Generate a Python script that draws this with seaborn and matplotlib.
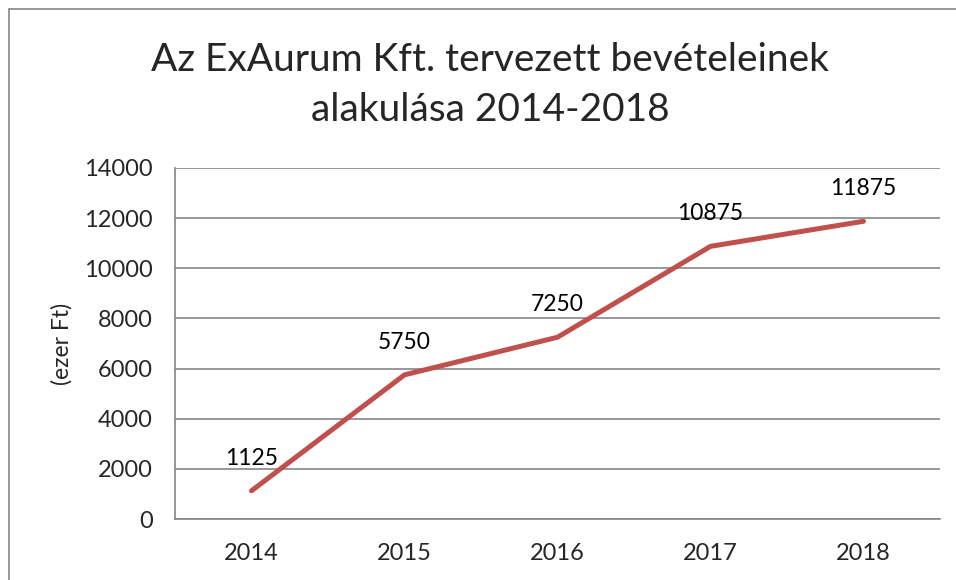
import numpy as np
import pandas as pd
import matplotlib.pyplot as plt
import seaborn as sns
from matplotlib.patches import Rectangle

years = ["2014", "2015", "2016", "2017", "2018"]
revenue = [1125, 5750, 7250, 10875, 11875]
y_ticks = [0, 2000, 4000, 6000, 8000, 10000, 12000, 14000]

df = pd.DataFrame({"pos": np.arange(len(years)), "revenue": revenue})

sns.set_style("white")
plt.rcParams["font.family"] = ["Lato", "DejaVu Sans"]

fig = plt.figure(figsize=(9.56, 5.8), dpi=100)
ax = fig.add_axes([175 / 956, 1 - 519 / 580, 765 / 956, 351 / 580])

sns.lineplot(x="pos", y="revenue", data=df, ax=ax, color="#C0504D",
             linewidth=3.6, solid_capstyle="round")

for x, v in zip(df["pos"], df["revenue"]):
    ax.annotate(str(v), (x, v), xytext=(0, 16), textcoords="offset points",
                ha="center", va="bottom", fontsize=16.5, color="black")

ax.set_xlim(-0.5, len(years) - 0.5)
ax.set_ylim(0, 14000)
ax.set_yticks(y_ticks)
ax.set_yticklabels([str(t) for t in y_ticks], fontsize=17)
ax.set_xticks(np.arange(-0.5, len(years)), labels=[""] * (len(years) + 1))
ax.set_xticks(np.arange(len(years)), labels=years, minor=True, fontsize=17)
ax.tick_params(axis="x", which="major", length=7, width=1.2, color="#868686", direction="out")
ax.tick_params(axis="x", which="minor", length=0, pad=17)
ax.tick_params(axis="y", length=6, width=1.2, color="#868686", direction="out", pad=10)
ax.grid(axis="y", color="#868686", linewidth=1.2)
ax.set_axisbelow(True)
for s in ["top", "right"]:
    ax.spines[s].set_visible(False)
for s in ["left", "bottom"]:
    ax.spines[s].set_color("#868686")
    ax.spines[s].set_linewidth(1.2)

ax.set_xlabel("")
ax.set_ylabel("(ezer Ft)", fontsize=16.5, labelpad=8)

fig.text(490 / 956, 1 - 85 / 580, "Az ExAurum Kft. tervezett bevételeinek\nalakulása 2014-2018",
         ha="center", va="center", fontsize=28, linespacing=1.5)

fig.patches.append(Rectangle((9 / 956, -0.1), 1.2, 1.1 - 9 / 580, transform=fig.transFigure,
                             fill=False, edgecolor="#868686", linewidth=1.2))

fig.savefig("out.png", dpi=100)
